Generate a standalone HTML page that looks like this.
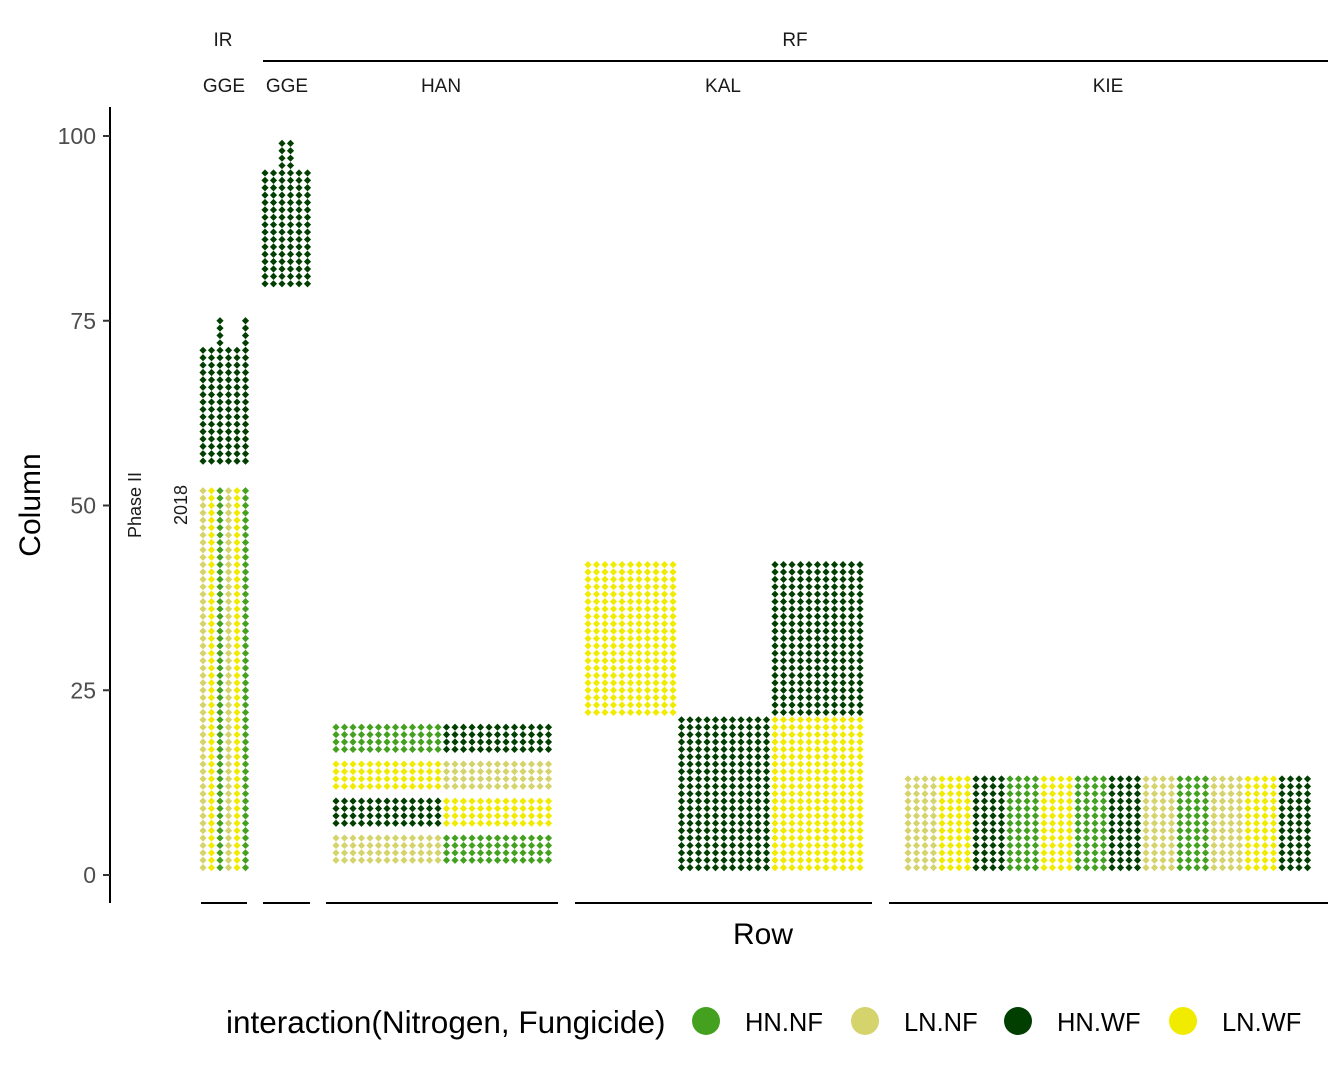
<!DOCTYPE html>
<html><head><meta charset="utf-8"><style>
body{margin:0;background:#fff}
svg{display:block;font-family:"Liberation Sans",Arial,sans-serif}
</style></head><body>
<svg id="c" width="1344" height="1075">
<g font-size="19" fill="#1a1a1a" text-anchor="middle">
<text x="223" y="46">IR</text>
<text x="795" y="46">RF</text>
<line x1="263" y1="61" x2="1328" y2="61" stroke="#000" stroke-width="2"/>
<text x="224" y="92">GGE</text>
<text x="287" y="92">GGE</text>
<text x="441" y="92">HAN</text>
<text x="723" y="92">KAL</text>
<text x="1108" y="92">KIE</text>
</g>
<line x1="110" y1="107" x2="110" y2="903" stroke="#000" stroke-width="2"/>
<g id="yt"></g>
<text transform="translate(141,505) rotate(-90)" font-size="18" text-anchor="middle" fill="#1a1a1a">Phase II</text>
<text transform="translate(187,505) rotate(-90)" font-size="18" text-anchor="middle" fill="#1a1a1a">2018</text>
<text transform="translate(40,505) rotate(-90)" font-size="30" text-anchor="middle" fill="#000">Column</text>
<text x="763" y="944" font-size="30" text-anchor="middle" fill="#000">Row</text>
<g id="pl"></g>
<g id="pts"></g>
<g id="lg">
<text x="226" y="1033" font-size="31.5" fill="#000">interaction(Nitrogen, Fungicide)</text>
</g>
</svg>
<script>
const treatments=["HN.NF","LN.NF","HN.WF","LN.WF"];
const colors=["#44a11f","#d5d36b","#013f01","#f1eb00"];
const yTicks=[0,25,50,75,100];
// blocks: panel, colStart, colEnd, rowStart, rowEnd, treatment index
const blockPanel=[0,0,0,0,0,0,0,0,0, 1,1, 2,2,2,2,2,2,2,2, 3,3,3,3];
const blockC0=[1,1,2,3,4,5,6,3,6, 1,3, 1,14,1,14,1,14,1,14, 1,12,23,23];
const blockC1=[6,1,2,3,4,5,6,3,6, 6,4, 13,26,13,26,13,26,13,26, 11,22,33,33];
const blockR0=[56,1,1,1,1,1,1,72,72, 80,96, 17,17,12,12,7,7,2,2, 22,1,22,1];
const blockR1=[71,52,52,52,52,52,52,75,75, 95,99, 20,20,15,15,10,10,5,5, 42,21,42,21];
const blockT=[2,1,3,0,1,3,0,2,2, 2,2, 0,2,3,1,2,3,1,0, 3,2,2,3];
// KIE column groups (4 columns each), rows 1-13
const kieGroups=[1,3,2,0,3,0,2,1,0,1,3,2];
const kieRows=[1,13];
// panel layout (pixels)
const panelX0=[203,265,336,588,908];
const panelLine=[[201,247],[263,310],[326,558],[575,872],[889,1328]];
const dx=8.5;
const y=v=>875-v*7.39;
const NS="http://www.w3.org/2000/svg";
const mk=(t,a)=>{const e=document.createElementNS(NS,t);for(const k in a)e.setAttribute(k,a[k]);return e;};
const yt=document.getElementById('yt');
yTicks.forEach(t=>{
 const l=mk('line',{x1:103,x2:110,y1:y(t),y2:y(t),stroke:'#333','stroke-width':2});
 
 
 yt.appendChild(l);
 const tx=mk('text',{x:96,y:y(t)+8,'font-size':23,'text-anchor':'end',fill:'#4d4d4d'});
 tx.textContent=t;
 
 
 yt.appendChild(tx);
});
const pl=document.getElementById('pl');
panelLine.forEach(p=>{
 const l=mk('line',{x1:p[0],x2:p[1],y1:903,y2:903,stroke:'#000','stroke-width':2});
 
 
 pl.appendChild(l);
});
const pts=document.getElementById('pts');
function dot(p,c,r,t){
 const cx=panelX0[p]+(c-1)*dx, cy=y(r), s=3.6;
 const d=mk('path',{d:`M${cx} ${cy-s}L${cx+s} ${cy}L${cx} ${cy+s}L${cx-s} ${cy}Z`,fill:colors[t]});
 
 
 pts.appendChild(d);
}
blockPanel.forEach((p,i)=>{
 for(let c=blockC0[i];c<=blockC1[i];c++)for(let r=blockR0[i];r<=blockR1[i];r++)dot(p,c,r,blockT[i]);
});
kieGroups.forEach((t,g)=>{
 for(let c=g*4+1;c<=g*4+4;c++)for(let r=kieRows[0];r<=kieRows[1];r++)dot(4,c,r,t);
});
const lg=document.getElementById('lg');
const lx=[706,865,1018,1183];
treatments.forEach((t,i)=>{
 const c=mk('circle',{cx:lx[i],cy:1021,r:14,fill:colors[i]});
 
 
 lg.appendChild(c);
 const tx=mk('text',{x:lx[i]+39,y:1031,'font-size':25.5,fill:'#000'});
 tx.textContent=t;
 
 
 lg.appendChild(tx);
});
</script>
</body></html>
